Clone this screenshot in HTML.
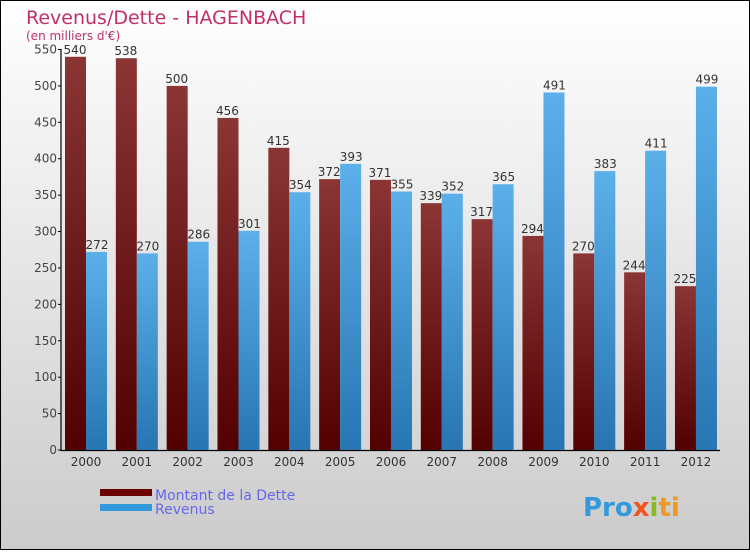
<!DOCTYPE html>
<html><head><meta charset="utf-8"><style>
body{margin:0;}
#wrap{position:relative;width:750px;height:550px;}
svg text{font-family:"DejaVu Sans","Liberation Sans",sans-serif;}
</style></head><body>
<div id="wrap">
<svg id="chart" width="750" height="550" viewBox="0 0 750 550">
<defs>
<linearGradient id="bg" x1="0" y1="0" x2="0" y2="1"><stop offset="0" stop-color="#ffffff"/><stop offset="1" stop-color="#cbcbcb"/></linearGradient>
<linearGradient id="gd" x1="0" y1="0" x2="0" y2="1"><stop offset="0" stop-color="#8b3535"/><stop offset="1" stop-color="#520000"/></linearGradient>
<linearGradient id="gr" x1="0" y1="0" x2="0" y2="1"><stop offset="0" stop-color="#5cb0ea"/><stop offset="1" stop-color="#2775b2"/></linearGradient>
</defs>
<rect x="0.5" y="0.5" width="749" height="549" fill="url(#bg)" stroke="#000"/>
<text x="26" y="24" font-size="19" fill="#c0306a">Revenus/Dette - HAGENBACH</text>
<text x="26" y="40" font-size="12" fill="#c0306a">(en milliers d'€)</text>
<g id="plot"></g>
<rect x="100" y="489" width="52" height="7" fill="#6a0000"/>
<rect x="100" y="504" width="52" height="7" fill="#3399dd"/>
<text x="155" y="500" font-size="14" fill="#6666ee">Montant de la Dette</text>
<text x="155" y="514" font-size="14" fill="#6666ee">Revenus</text>
<text x="583" y="516" font-size="26" font-weight="bold"><tspan fill="#3399dd">Pro</tspan><tspan fill="#ee5522">x</tspan><tspan fill="#88bb22">i</tspan><tspan fill="#ee9922">ti</tspan></text>
</svg>
</div>
<script>
const years=["2000","2001","2002","2003","2004","2005","2006","2007","2008","2009","2010","2011","2012"];
const dette=[540,538,500,456,415,372,371,339,317,294,270,244,225];
const revenus=[272,270,286,301,354,393,355,352,365,491,383,411,499];
const yTicks=[0,50,100,150,200,250,300,350,400,450,500,550];
const NS="http://www.w3.org/2000/svg";
const g=document.getElementById('plot');
const y0=450,yMax=550,yTop=49.5;
function y(v){return y0-(v/yMax)*(y0-yTop);}
function xc(i){return 86+i*50.83;}
function mk(t,a){const e=document.createElementNS(NS,t);for(const k in a)e.setAttribute(k,a[k]);g.appendChild(e);return e;}
const ax=mk('line',{x1:61,y1:49,x2:61,y2:451,stroke:'#000','stroke-width':1.2});


const bx=mk('line',{x1:61,y1:450.5,x2:720,y2:450.5,stroke:'#000','stroke-width':1.2});


yTicks.forEach(v=>{
  const t=mk('line',{x1:58,x2:61,y1:y(v),y2:y(v),stroke:'#000'});
  
  
  const l=mk('text',{x:57,y:y(v)+4,'font-size':12,'text-anchor':'end',fill:'#444'});
  l.textContent=v;
  
  
});
years.forEach((yr,i)=>{
  const c=xc(i);
  const b1=mk('rect',{x:c-21,y:y(dette[i]),width:21,height:y0-y(dette[i]),fill:'url(#gd)'});
  
  
  const b2=mk('rect',{x:c,y:y(revenus[i]),width:21,height:y0-y(revenus[i]),fill:'url(#gr)'});
  
  
  const l1=mk('text',{x:c-11,y:y(dette[i])-3,'font-size':12,'text-anchor':'middle',fill:'#333'});
  l1.textContent=dette[i];
  
  
  const l2=mk('text',{x:c+11,y:y(revenus[i])-3,'font-size':12,'text-anchor':'middle',fill:'#333'});
  l2.textContent=revenus[i];
  
  
  const xl=mk('text',{x:c,y:466,'font-size':12,'text-anchor':'middle',fill:'#333'});
  xl.textContent=yr;
  
  
});
</script>
</body></html>
